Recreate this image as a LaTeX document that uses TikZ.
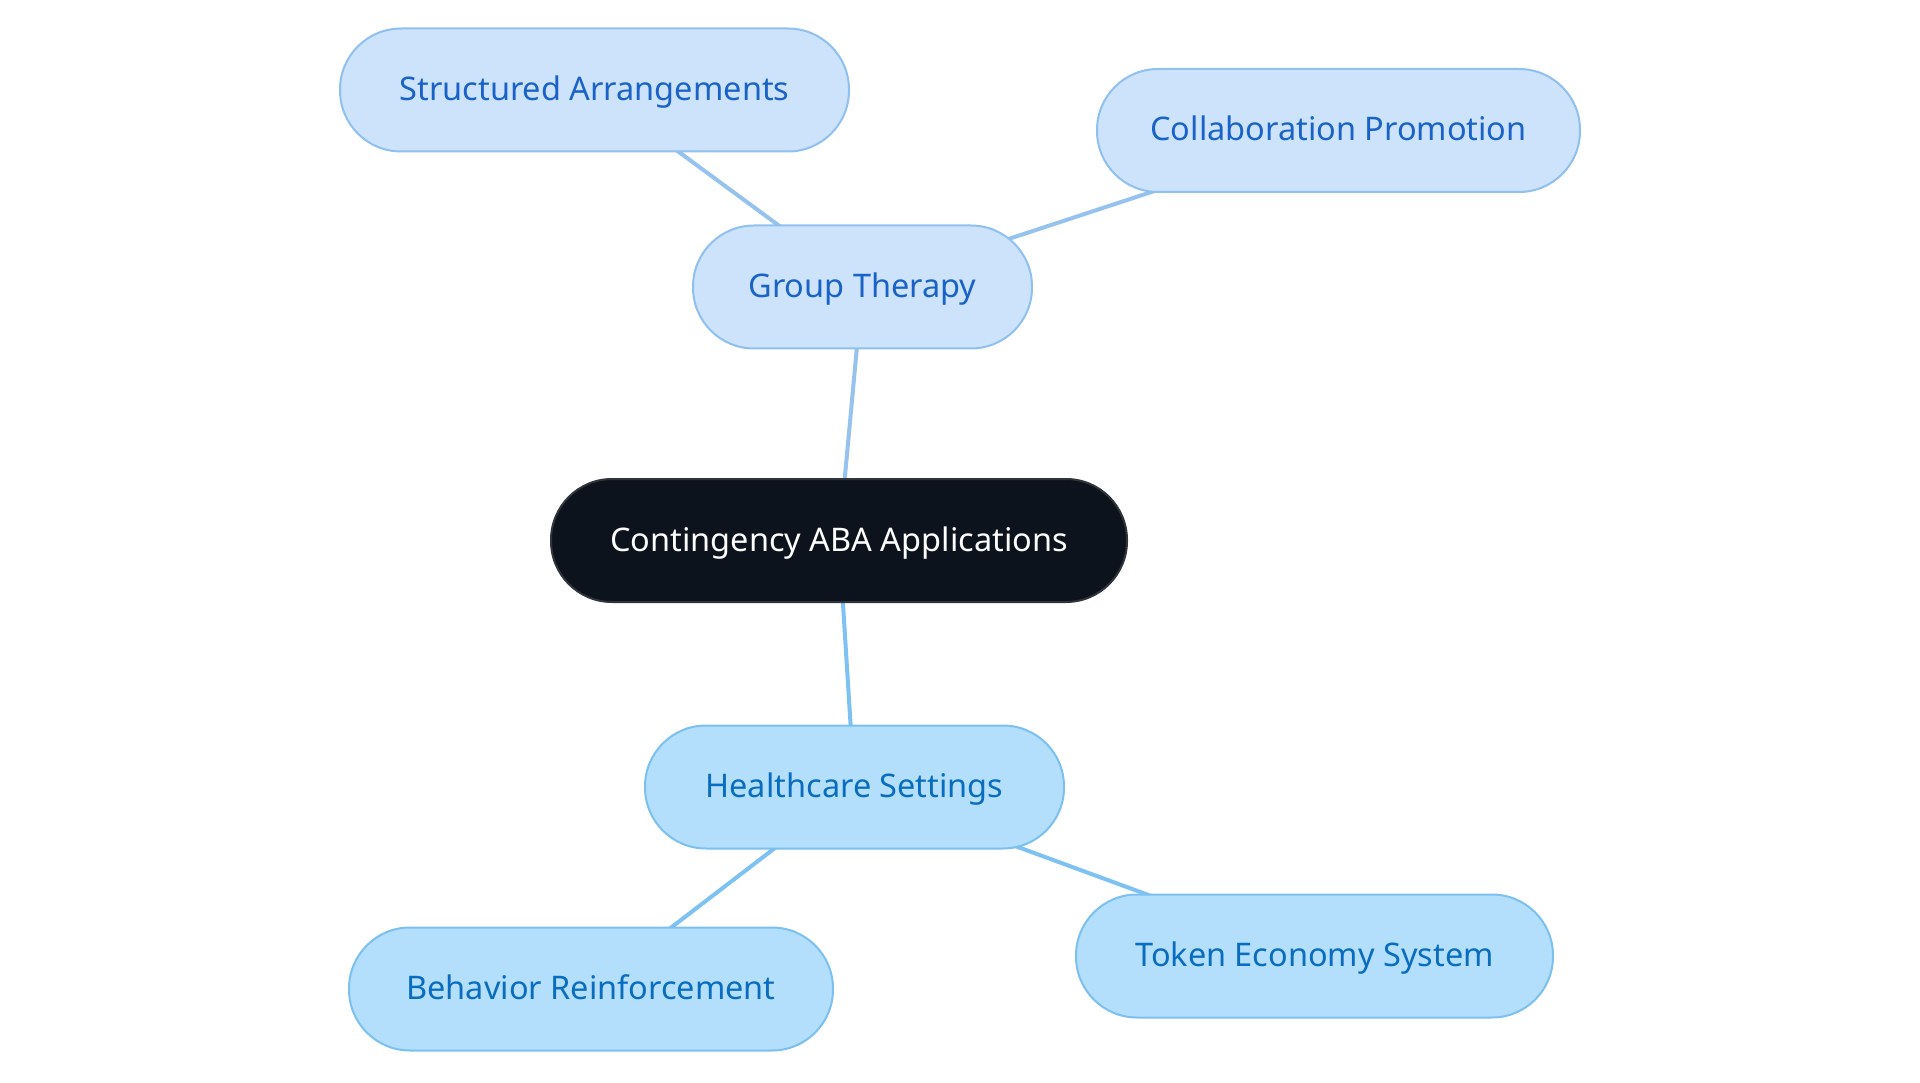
\documentclass[tikz,border=0pt]{standalone}
\usepackage{fontspec}
\setmainfont{Noto Sans}
\usetikzlibrary{backgrounds}
\definecolor{topfill}{HTML}{CCE3FB}
\definecolor{topdraw}{HTML}{90C0F0}
\definecolor{toptext}{HTML}{1A62C8}
\definecolor{botfill}{HTML}{B3DFFD}
\definecolor{botdraw}{HTML}{7CC0F0}
\definecolor{bottext}{HTML}{0A6CBF}
\definecolor{ctrfill}{HTML}{0D131C}
\definecolor{ctrdraw}{HTML}{30353C}
\definecolor{topline}{HTML}{96C2EE}
\definecolor{botline}{HTML}{7DC2F2}
\begin{document}
\begin{tikzpicture}[x=1pt,y=-1pt,
  pill/.style={rectangle,rounded corners=61pt,line width=2pt,inner sep=0pt,minimum height=123pt,text height=26pt,text depth=5pt,font=\fontsize{32.5}{38}\selectfont},
  topnode/.style={pill,fill=topfill,draw=topdraw,text=toptext},
  botnode/.style={pill,fill=botfill,draw=botdraw,text=bottext},
  ctrnode/.style={pill,fill=ctrfill,draw=ctrdraw,text=white},
  topedge/.style={draw=topline,line width=4pt},
  botedge/.style={draw=botline,line width=4pt}]
\useasboundingbox (0,0) rectangle (1920,1083);
\node[topnode,minimum width=509pt] (sa) at (594.5,90) {Structured Arrangements};
\node[topnode,minimum width=483pt] (cp) at (1338.5,130.5) {Collaboration Promotion};
\node[topnode,minimum width=339pt] (gt) at (862.5,287) {Group Therapy};
\node[ctrnode,minimum width=576pt] (c) at (839,540.5) {Contingency ABA Applications};
\node[botnode,minimum width=419pt] (hs) at (854.5,787) {Healthcare Settings};
\node[botnode,minimum width=484pt] (br) at (591,989) {Behavior Reinforcement};
\node[botnode,minimum width=477pt] (te) at (1314.5,956) {Token Economy System};
\begin{scope}[on background layer]
\path[topedge] (gt.center) -- (sa.center);
\path[topedge] (gt.center) -- (cp.center);
\path[topedge] (c.center) -- (gt.center);
\path[botedge] (c.center) -- (hs.center);
\path[botedge] (hs.center) -- (br.center);
\path[botedge] (hs.center) -- (te.center);
\end{scope}
\end{tikzpicture}
\end{document}
